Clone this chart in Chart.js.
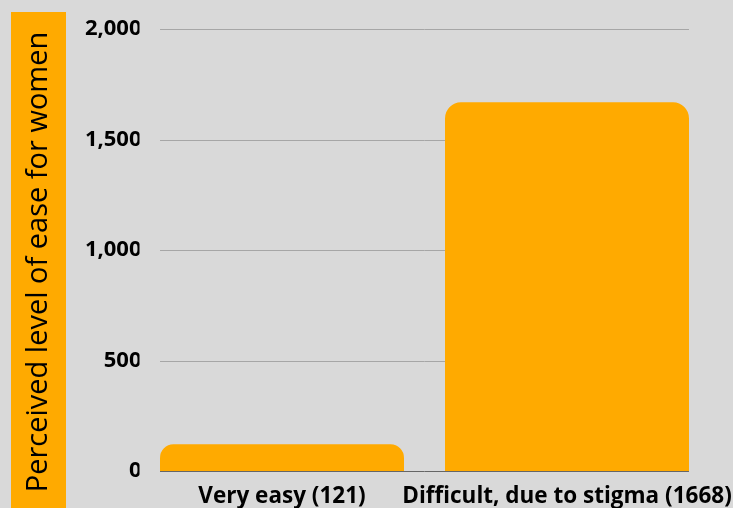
<!DOCTYPE html>
<html>
<head>
<meta charset="utf-8">
<script src="https://cdn.jsdelivr.net/npm/chart.js@4"></script>
<style>
  html, body { margin: 0; padding: 0; background: #d9d9d9; }
  #wrap { width: 733px; height: 508px; }
</style>
</head>
<body>
<div id="wrap"><canvas id="myChart"></canvas></div>
<script>
const categories = ["Very easy (121)", "Difficult, due to stigma (1668)"];
const responses = [121, 1668];
const yTicks = [0, 500, 1000, 1500, 2000];
const axisTitle = "Perceived level of ease for women";

const orange = "#ffaa00";

// grey page + orange band with the y axis title (sits a bit below the axis middle, as in the original)
const titleBand = {
  id: "titleBand",
  beforeDraw(chart) {
    const c = chart.ctx;
    const y = chart.scales.y;
    c.save();
    c.fillStyle = "#d9d9d9";
    c.fillRect(0, 0, chart.width, chart.height);
    c.fillStyle = orange;
    c.fillRect(y.left, 12, 55, chart.height - 12);
    c.translate(y.left + 27.5, (12 + chart.height) / 2 + 2);
    c.rotate(-Math.PI / 2);
    c.fillStyle = "#000";
    c.font = "29px 'Open Sans'";
    c.textAlign = "center";
    c.textBaseline = "middle";
    c.fillText(axisTitle, 0, 0);
    c.restore();
  }
};

// horizontal grid lines only run from the outer edge of the first bar to the outer edge of the last
const insetGrid = {
  id: "insetGrid",
  beforeDatasetsDraw(chart) {
    const c = chart.ctx;
    const y = chart.scales.y;
    const bars = chart.getDatasetMeta(0).data;
    const x0 = bars[0].x - bars[0].width / 2;
    const x1 = bars[bars.length - 1].x + bars[bars.length - 1].width / 2;
    c.save();
    c.lineWidth = 1;
    yTicks.forEach(v => {
      const py = Math.round(y.getPixelForValue(v)) + 0.5;
      c.strokeStyle = v === 0 ? "#666666" : "#a6a6a6";
      c.beginPath();
      c.moveTo(x0, py);
      c.lineTo(x1, py);
      c.stroke();
    });
    c.restore();
  }
};

const ctx = document.getElementById("myChart");

new Chart(ctx, {
  type: "bar",
  data: {
    labels: categories,
    datasets: [{
      data: responses,
      backgroundColor: orange,
      borderRadius: { topLeft: 16, topRight: 16 },
      borderSkipped: "bottom",
      barPercentage: 0.856,
      categoryPercentage: 1
    }]
  },
  options: {
    responsive: true,
    maintainAspectRatio: false,
    animation: false,
    layout: { padding: { left: 11, top: 29, right: 23.5, bottom: 0 } },
    plugins: {
      legend: { display: false },
      tooltip: { enabled: false }
    },
    scales: {
      x: {
        grid: { display: false, drawTicks: false },
        border: { display: false },
        afterFit: (scale) => { scale.paddingLeft = 0; scale.paddingRight = 0; scale.height = 37; },
        ticks: {
          color: "#000",
          padding: 12,
          maxRotation: 0,
          minRotation: 0,
          autoSkip: false,
          font: { family: "Open Sans", size: 22.5, weight: "bold" }
        }
      },
      y: {
        min: 0,
        max: 2000,
        afterFit: (scale) => { scale.width = 128.5; },
        afterBuildTicks: (scale) => { scale.ticks = yTicks.map(v => ({ value: v })); },
        ticks: {
          color: "#000",
          padding: -2,
          font: { family: "Open Sans", size: 22, weight: "bold" },
          callback: (v) => v.toLocaleString("en-US")
        },
        grid: { display: false, drawTicks: false },
        border: { display: false }
      }
    }
  },
  plugins: [titleBand, insetGrid]
});
</script>
</body>
</html>
